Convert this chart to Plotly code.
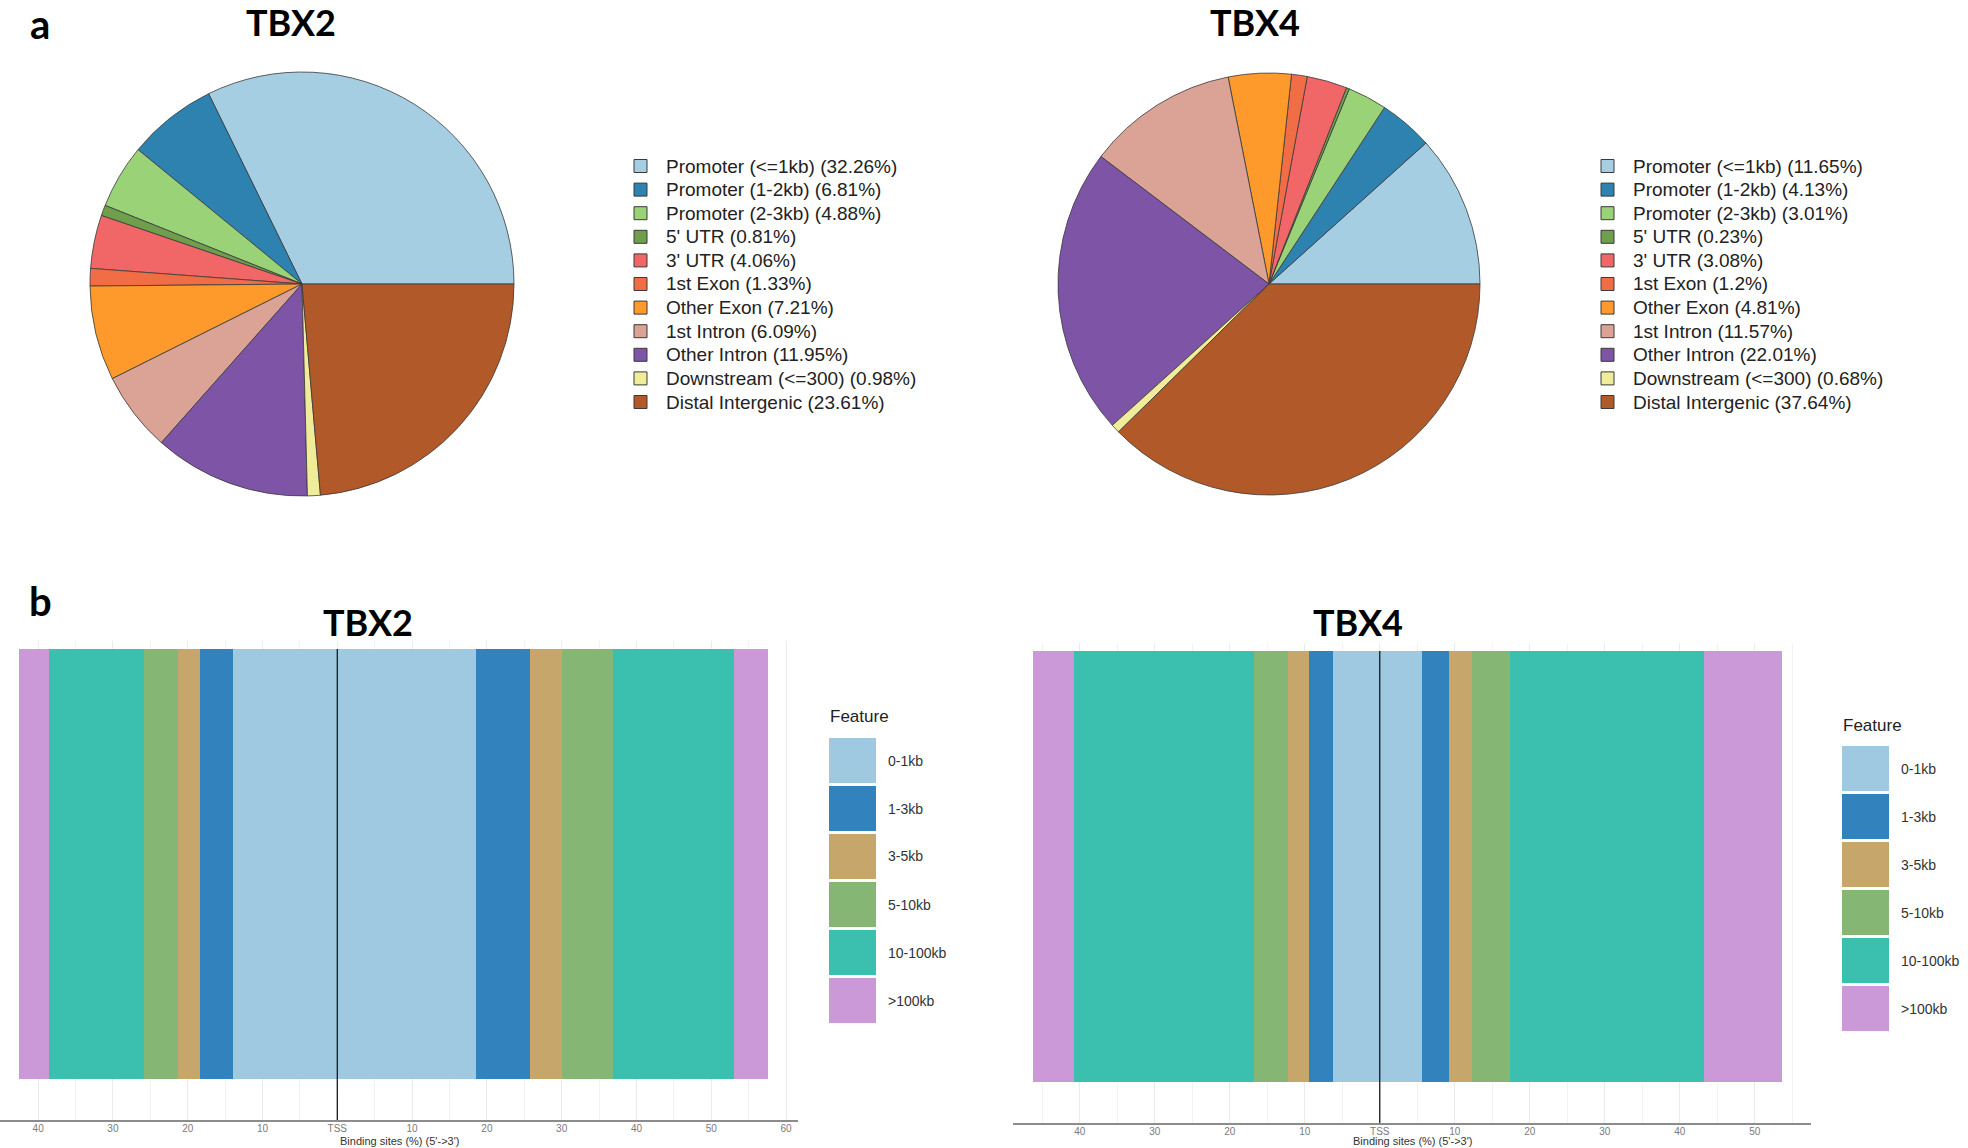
import numpy as np
import plotly.graph_objects as go

W, H = 1968, 1148

# ---------------- data ----------------
anno_cats = ["Promoter (<=1kb)", "Promoter (1-2kb)", "Promoter (2-3kb)", "5' UTR", "3' UTR",
             "1st Exon", "Other Exon", "1st Intron", "Other Intron", "Downstream (<=300)",
             "Distal Intergenic"]
tbx2_pct = [32.26, 6.81, 4.88, 0.81, 4.06, 1.33, 7.21, 6.09, 11.95, 0.98, 23.61]
tbx4_pct = [11.65, 4.13, 3.01, 0.23, 3.08, 1.2, 4.81, 11.57, 22.01, 0.68, 37.64]
anno_colors = ["#A6CEE3", "#2E82B0", "#99D277", "#6F9E4D", "#F16767", "#F06D46",
               "#FE992C", "#DAA396", "#7D54A6", "#F0EC99", "#B15928"]

features = ["0-1kb", "1-3kb", "3-5kb", "5-10kb", "10-100kb", ">100kb"]
tbx2_up = [13.9, 4.4, 3.0, 4.5, 12.8, 4.0]
tbx2_down = [18.5, 7.2, 4.4, 6.7, 16.3, 4.5]
tbx4_up = [6.2, 3.3, 2.7, 4.6, 24.0, 5.5]
tbx4_down = [5.6, 3.6, 3.1, 5.0, 25.9, 10.4]
feature_colors = ["#9FC9E0", "#3182BD", "#C7A66B", "#86B673", "#3BBFAF", "#CC99D8"]

tick_vals = [-40, -30, -20, -10, 0, 10, 20, 30, 40, 50, 60]
tick_text = ["40", "30", "20", "10", "TSS", "10", "20", "30", "40", "50", "60"]


def px(x):
    return x / W


def py(y):
    return 1 - y / H


fig = go.Figure()

# ---------------- pies ----------------
pie_specs = [
    (tbx2_pct, 302, 284, 212),
    (tbx4_pct, 1269, 284, 211),
]
for pct, cx, cy, r in pie_specs:
    # first slice starts at 3 o'clock and runs counter-clockwise
    rot = 90 - 360 * pct[0] / sum(pct)
    fig.add_trace(go.Pie(
        labels=[f"{c} ({p:g}%)" for c, p in zip(anno_cats, pct)],
        values=pct, sort=False, direction="counterclockwise", rotation=rot,
        marker=dict(colors=anno_colors, line=dict(color="#3a3a3a", width=0.8)),
        textinfo="none", hoverinfo="label", showlegend=False,
        domain=dict(x=[px(cx - r), px(cx + r)], y=[py(cy + r), py(cy - r)]),
    ))

shapes = []
annotations = []

# pie legends (drawn manually)
for pct, sw_x, tx_x in [(tbx2_pct, 634, 664), (tbx4_pct, 1601, 1631)]:
    for i, (c, p) in enumerate(zip(anno_cats, pct)):
        yc = 166 + i * 23.6
        shapes.append(dict(type="rect", xref="paper", yref="paper",
                           x0=px(sw_x), x1=px(sw_x + 13), y0=py(yc + 6.5), y1=py(yc - 6.5),
                           fillcolor=anno_colors[i], line=dict(color="#3a3a3a", width=1)))
        annotations.append(dict(xref="paper", yref="paper", x=px(tx_x), y=py(yc),
                                xanchor="left", yanchor="middle", showarrow=False,
                                text=f"{c} ({p:g}%)",
                                font=dict(family="Liberation Sans, Arial", size=19, color="#222222")))

# ---------------- distance-to-TSS bars ----------------
y_rng = [-0.5953, 0.5186]
bar_specs = [
    dict(up=tbx2_up, down=tbx2_down, xa="x", ya="y", xd=[0, 798], yd=[641, 1120],
         rng=[-45.1, 61.6]),
    dict(up=tbx4_up, down=tbx4_down, xa="x2", ya="y2", xd=[1013, 1811], yd=[643, 1123],
         rng=[-48.9, 57.5]),
]
for k, s in enumerate(bar_specs):
    up_end = np.cumsum(s["up"])
    down_end = np.cumsum(s["down"])
    for i, f in enumerate(features):
        fig.add_trace(go.Bar(
            y=[0, 0], x=[s["up"][i], s["down"][i]],
            base=[-up_end[i], down_end[i] - s["down"][i]],
            orientation="h", width=1, name=f,
            marker=dict(color=feature_colors[i], line=dict(width=0)),
            xaxis=s["xa"], yaxis=s["ya"], showlegend=False,
        ))
    sfx = "" if k == 0 else "2"
    fig.layout["xaxis" + sfx] = dict(
        domain=[px(s["xd"][0]), px(s["xd"][1])], range=s["rng"], anchor="y" + sfx,
        tickmode="array", tickvals=tick_vals, ticktext=tick_text,
        showgrid=True, gridcolor="#ebebeb", gridwidth=1,
        minor=dict(dtick=5, tick0=0, showgrid=True, gridcolor="#f3f3f3", gridwidth=1),
        showline=True, linecolor="#8c8c8c", linewidth=2.2, ticks="", zeroline=False,
        tickfont=dict(family="Liberation Sans Narrow, Liberation Sans, Arial", size=10,
                      color="#7a7a7a"),
        ticklabelstandoff=-2,
    )
    fig.layout["yaxis" + sfx] = dict(
        domain=[py(s["yd"][1]), py(s["yd"][0])], range=y_rng,
        anchor="x" + sfx, showgrid=False, showticklabels=False, zeroline=False,
        showline=False, fixedrange=True,
    )
    # TSS line (from the top of the bar down to the axis)
    shapes.append(dict(type="line", xref=s["xa"], yref=s["ya"],
                       x0=0, x1=0, y0=y_rng[0], y1=0.5, line=dict(color="#1a1a1a", width=1.3),
                       layer="above"))
    # axis title
    annotations.append(dict(xref="paper", yref="paper",
                            x=px((s["xd"][0] + s["xd"][1]) / 2), y=py(1141),
                            xanchor="center", yanchor="middle", showarrow=False,
                            text="Binding sites (%) (5'->3')",
                            font=dict(family="Liberation Sans Narrow, Liberation Sans, Arial",
                                      size=11, color="#333333")))

# bar legends (drawn manually)
for lx, ly_title, top0 in [(829, 716, 738), (1842, 725, 746)]:
    annotations.append(dict(xref="paper", yref="paper", x=px(lx - 1), y=py(ly_title),
                            xanchor="left", yanchor="middle", showarrow=False, text="Feature",
                            font=dict(family="Liberation Sans, Arial", size=17, color="#222222")))
    for i, f in enumerate(features):
        t = top0 + i * 48
        shapes.append(dict(type="rect", xref="paper", yref="paper",
                           x0=px(lx), x1=px(lx + 47), y0=py(t + 45), y1=py(t),
                           fillcolor=feature_colors[i], line=dict(width=0)))
        annotations.append(dict(xref="paper", yref="paper", x=px(lx + 57), y=py(t + 22.5),
                                xanchor="left", yanchor="middle", showarrow=False, text=f,
                                font=dict(family="Liberation Sans Narrow, Liberation Sans, Arial",
                                          size=14, color="#333333")))

# titles and panel letters
title_font = dict(family="Lato, Open Sans, Arial", size=36, color="#000000")
for txt, x, y in [("TBX2", 291, 22), ("TBX4", 1255, 22), ("TBX2", 368, 622), ("TBX4", 1358, 622)]:
    annotations.append(dict(xref="paper", yref="paper", x=px(x), y=py(y), xanchor="center",
                            yanchor="middle", showarrow=False, text=f"<b>{txt}</b>",
                            font=title_font))
for txt, x, y in [("a", 40, 24), ("b", 40, 601)]:
    annotations.append(dict(xref="paper", yref="paper", x=px(x), y=py(y), xanchor="center",
                            yanchor="middle", showarrow=False, text=f"<b>{txt}</b>",
                            font=dict(family="Lato, Open Sans, Arial", size=40, color="#000000")))

fig.update_layout(
    width=W, height=H, margin=dict(l=0, r=0, t=0, b=0),
    paper_bgcolor="white", plot_bgcolor="white",
    barmode="overlay", bargap=0, showlegend=False,
    shapes=shapes, annotations=annotations,
)

fig.write_html("out.html", config={"displayModeBar": False},
               post_script="document.body.style.margin='0';document.body.style.padding='0';")
